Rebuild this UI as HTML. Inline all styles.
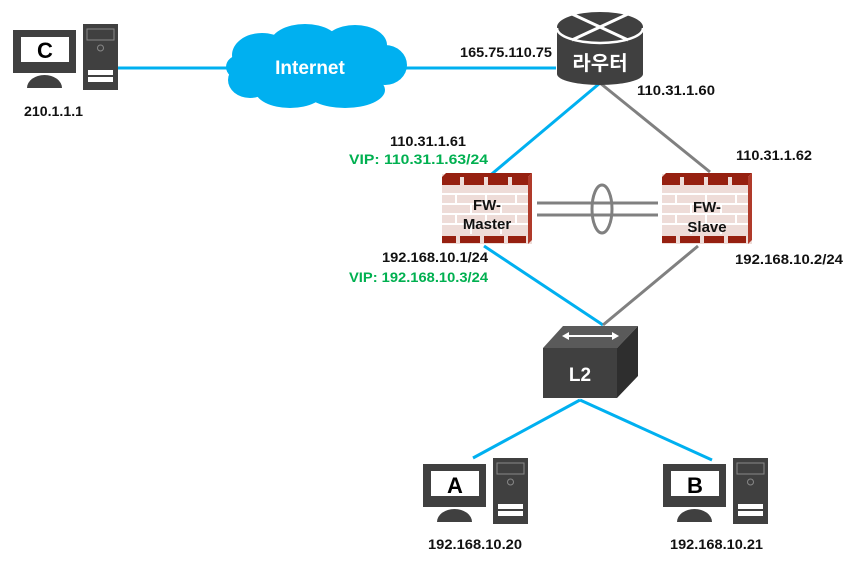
<!DOCTYPE html>
<html><head><meta charset="utf-8"><style>
html,body{margin:0;padding:0;background:#fff;width:860px;height:566px;overflow:hidden}
text{font-family:"Liberation Sans","Noto Sans CJK KR",sans-serif;font-weight:bold}
</style></head><body>
<svg width="860" height="566" viewBox="0 0 860 566" xmlns="http://www.w3.org/2000/svg">
<defs>
<g id="pc">
  <rect x="0" y="0" width="63" height="43" fill="#404040"/>
  <rect x="8" y="7" width="48" height="25" fill="#fff"/>
  <path d="M14,58 A17.5,13 0 0 1 49,58 Z" fill="#404040"/>
  <rect x="70" y="-6" width="35" height="66" fill="#404040"/>
  <rect x="74" y="-1" width="27" height="11" fill="none" stroke="#888" stroke-width="1"/>
  <circle cx="87.5" cy="18" r="3" fill="none" stroke="#888" stroke-width="1"/>
  <rect x="75" y="40" width="25" height="5" fill="#fff"/>
  <rect x="75" y="47" width="25" height="5" fill="#fff"/>
</g>
<g id="fw">
  <rect x="0" y="0" width="90" height="70" fill="#eedcd8"/>
  <g stroke="#fff" stroke-width="2">
    <line x1="0" y1="20" x2="90" y2="20"/><line x1="0" y1="30" x2="90" y2="30"/>
    <line x1="0" y1="40" x2="90" y2="40"/><line x1="0" y1="50" x2="90" y2="50"/>
    <line x1="14" y1="20" x2="14" y2="30"/><line x1="44" y1="20" x2="44" y2="30"/><line x1="74" y1="20" x2="74" y2="30"/>
    <line x1="29" y1="30" x2="29" y2="40"/><line x1="59" y1="30" x2="59" y2="40"/>
    <line x1="14" y1="40" x2="14" y2="50"/><line x1="44" y1="40" x2="44" y2="50"/><line x1="74" y1="40" x2="74" y2="50"/>
    <line x1="29" y1="50" x2="29" y2="60"/><line x1="59" y1="50" x2="59" y2="60"/>
  </g>
  <g fill="#962010">
    <rect x="0" y="3" width="18" height="8"/><rect x="22" y="3" width="20" height="8"/><rect x="46" y="3" width="20" height="8"/><rect x="70" y="3" width="16" height="8"/>
    <rect x="0" y="62" width="14" height="7"/><rect x="18" y="62" width="20" height="7"/><rect x="42" y="62" width="20" height="7"/><rect x="66" y="62" width="18" height="7"/>
  </g>
  <polygon points="0,3 4,-1 90,-1 86,3" fill="#962010"/>
  <polygon points="86,3 90,-1 90,66 86,70" fill="#b03a2a"/>
</g>
</defs>

<line x1="118" y1="68" x2="232" y2="68" stroke="#00b0f0" stroke-width="3"/>
<line x1="400" y1="68" x2="556" y2="68" stroke="#00b0f0" stroke-width="3"/>
<line x1="600" y1="83" x2="487" y2="178" stroke="#00b0f0" stroke-width="3"/>
<line x1="600" y1="83" x2="710" y2="172" stroke="#808080" stroke-width="3"/>
<line x1="484" y1="246" x2="603" y2="325" stroke="#00b0f0" stroke-width="3"/>
<line x1="698" y1="246" x2="603" y2="325" stroke="#808080" stroke-width="3"/>
<line x1="580" y1="400" x2="473" y2="458" stroke="#00b0f0" stroke-width="3"/>
<line x1="580" y1="400" x2="712" y2="460" stroke="#00b0f0" stroke-width="3"/>
<line x1="537" y1="203" x2="658" y2="203" stroke="#808080" stroke-width="3"/>
<line x1="537" y1="215" x2="658" y2="215" stroke="#808080" stroke-width="3"/>
<ellipse cx="602" cy="209" rx="10" ry="24" fill="none" stroke="#808080" stroke-width="3"/>

<use href="#pc" x="13" y="30"/>
<text x="45" y="58" font-size="22" text-anchor="middle" fill="#000">C</text>
<use href="#pc" x="423" y="464"/>
<text x="455" y="493" font-size="22" text-anchor="middle" fill="#000">A</text>
<use href="#pc" x="663" y="464"/>
<text x="695" y="493" font-size="22" text-anchor="middle" fill="#000">B</text>

<g fill="#00b0f0">
  <ellipse cx="312" cy="68" rx="85" ry="30"/>
  <ellipse cx="262" cy="55" rx="30" ry="22"/>
  <ellipse cx="305" cy="44" rx="35" ry="20"/>
  <ellipse cx="355" cy="45" rx="32" ry="20"/>
  <ellipse cx="385" cy="65" rx="22" ry="20"/>
  <ellipse cx="250" cy="80" rx="22" ry="18"/>
  <ellipse cx="290" cy="90" rx="35" ry="18"/>
  <ellipse cx="345" cy="90" rx="40" ry="18"/>
  <ellipse cx="240" cy="67" rx="14" ry="12"/>
</g>
<text x="310" y="74" font-size="19" text-anchor="middle" fill="#fff">Internet</text>

<path d="M557,28 L557,74 A43,11 0 0 0 643,74 L643,28 Z" fill="#404040"/>
<ellipse cx="600" cy="27" rx="43" ry="15" fill="#404040"/>
<path d="M557,28 A43,15 0 0 0 643,28" fill="none" stroke="#fff" stroke-width="2.5"/>
<line x1="572" y1="14" x2="628" y2="40" stroke="#fff" stroke-width="3"/>
<line x1="628" y1="14" x2="572" y2="40" stroke="#fff" stroke-width="3"/>
<text x="600" y="70" font-size="20" text-anchor="middle" fill="#fff" font-weight="normal">라우터</text>

<use href="#fw" x="442" y="174"/>
<text x="487" y="210" font-size="15" text-anchor="middle" fill="#111">FW-</text>
<text x="487" y="229" font-size="15" text-anchor="middle" fill="#111">Master</text>
<use href="#fw" x="662" y="174"/>
<text x="707" y="212" font-size="15" text-anchor="middle" fill="#111">FW-</text>
<text x="707" y="232" font-size="15" text-anchor="middle" fill="#111">Slave</text>

<polygon points="543,348 563,326 638,326 617,348" fill="#5a5a5a"/>
<polygon points="617,348 638,326 638,376 617,398" fill="#2e2e2e"/>
<rect x="543" y="348" width="74" height="50" fill="#404040"/>
<line x1="567" y1="336" x2="614" y2="336" stroke="#fff" stroke-width="2"/>
<polygon points="562,336 569,332 569,340" fill="#fff"/>
<polygon points="619,336 612,332 612,340" fill="#fff"/>
<text x="580" y="381" font-size="19" text-anchor="middle" fill="#fff">L2</text>

<g font-size="14" fill="#111">
<text x="24" y="116" textLength="59" lengthAdjust="spacingAndGlyphs">210.1.1.1</text>
<text x="460" y="57" textLength="92" lengthAdjust="spacingAndGlyphs">165.75.110.75</text>
<text x="637" y="95" textLength="78" lengthAdjust="spacingAndGlyphs">110.31.1.60</text>
<text x="390" y="146" textLength="76" lengthAdjust="spacingAndGlyphs">110.31.1.61</text>
<text x="736" y="160" textLength="76" lengthAdjust="spacingAndGlyphs">110.31.1.62</text>
<text x="382" y="262" textLength="106" lengthAdjust="spacingAndGlyphs">192.168.10.1/24</text>
<text x="735" y="264" textLength="108" lengthAdjust="spacingAndGlyphs">192.168.10.2/24</text>
<text x="428" y="549" textLength="94" lengthAdjust="spacingAndGlyphs">192.168.10.20</text>
<text x="670" y="549" textLength="93" lengthAdjust="spacingAndGlyphs">192.168.10.21</text>
</g>
<g font-size="14" fill="#00b050">
<text x="349" y="164" textLength="139" lengthAdjust="spacingAndGlyphs">VIP: 110.31.1.63/24</text>
<text x="349" y="282" textLength="139" lengthAdjust="spacingAndGlyphs">VIP: 192.168.10.3/24</text>
</g>
</svg>
</body></html>
